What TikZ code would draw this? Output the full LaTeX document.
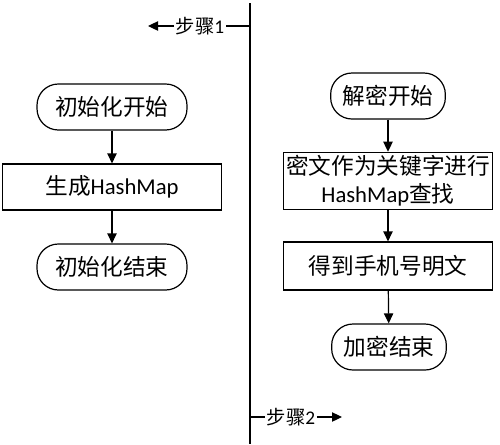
\documentclass[tikz,border=0pt]{standalone}
\usepackage{fontspec}
\setmainfont{Carlito}
\newfontfamily\cjk{Noto Sans CJK SC}
\usetikzlibrary{arrows.meta, positioning}

\begin{document}
\begin{tikzpicture}[
    x=0.75pt, y=-0.75pt,
    term/.style={rectangle, draw, line width=0.9pt, rounded corners=16pt, minimum height=34.5pt, align=center, font=\fontsize{17}{21}\selectfont},
    box/.style={rectangle, draw, line width=0.9pt, minimum width=157pt, minimum height=36pt, align=center, font=\fontsize{17}{21}\selectfont},
    steplabel/.style={inner sep=1pt, font=\fontsize{14.5}{17}\selectfont},
    arrow/.style={-{Triangle[length=7.5pt, width=7pt]}, line width=0.9pt}
]
\useasboundingbox (0,0) rectangle (500,444);

% divider
\coordinate (divtop) at (250,3);
\coordinate (divbot) at (250,444);
\draw[line width=0.9pt] (divtop) -- (divbot);

% step labels
\node[steplabel] (step1) at (200,26) {{\cjk 步骤}1};
\coordinate (s1right) at (250,26);
\coordinate (s1left) at (148,26);
\draw[line width=0.9pt] (s1right) -- (step1);
\draw[arrow] (step1) -- (s1left);

\node[steplabel] (step2) at (291,417) {{\cjk 步骤}2};
\coordinate (s2left) at (250,417);
\coordinate (s2right) at (342,417);
\draw[line width=0.9pt] (s2left) -- (step2);
\draw[arrow] (step2) -- (s2right);

% initialisation
\node[term, minimum width=112.5pt] (initstart) at (112,107) {\cjk 初始化开始};
\node[box, minimum width=164pt, minimum height=34.5pt] (genmap) at (112,187) {{\cjk 生成}HashMap};
\node[term, minimum width=112.5pt] (initend) at (112,267) {\cjk 初始化结束};

\draw[arrow] (initstart) -- (genmap);
\draw[arrow] (genmap) -- (initend);

% decryption
\node[term, minimum width=86pt] (decstart) at (388,96) {\cjk 解密开始};
\node[box, minimum height=43pt, inner sep=1pt] (lookup) at (388,181) {{\cjk 密文作为关键字进行}\\HashMap{\cjk 查找}};
\node[box] (plain) at (388,266) {\cjk 得到手机号明文};
\node[term, minimum width=86pt] (decend) at (389,347) {\cjk 加密结束};

\draw[arrow] (decstart) -- (lookup);
\draw[arrow] (lookup) -- (plain);
\draw[arrow] (plain) -- (decend);

\end{tikzpicture}
\end{document}
